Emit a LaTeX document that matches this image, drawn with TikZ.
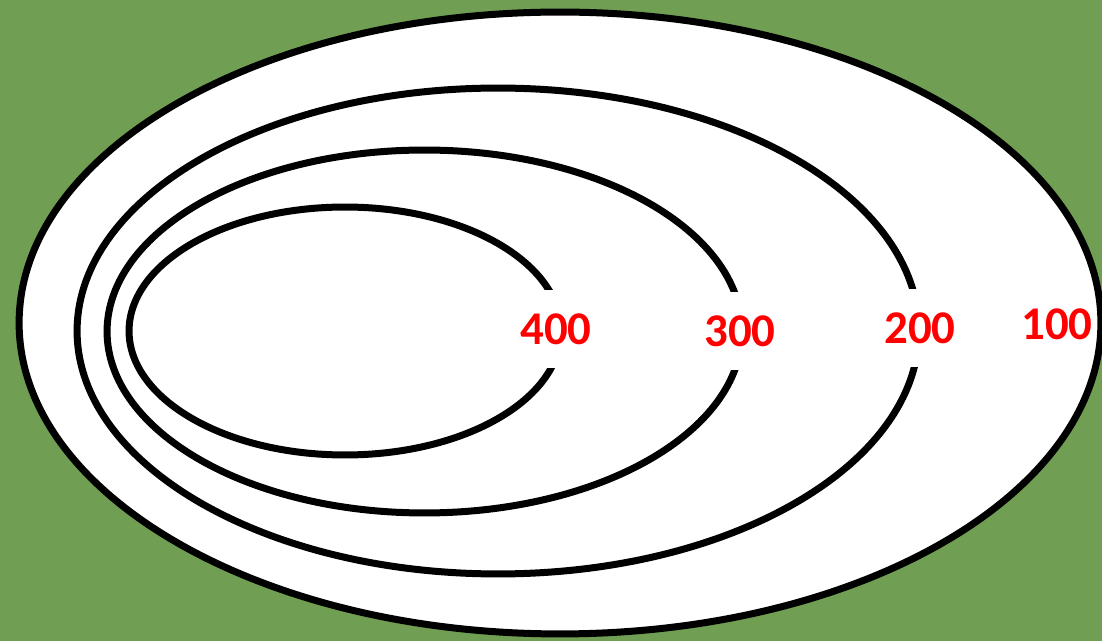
\documentclass[tikz,border=0pt]{standalone}
\usepackage{fontspec}
\setmainfont{Carlito}
\usepackage{xcolor}
\usepackage{tikz}
\definecolor{fieldgreen}{RGB}{112,158,82}
\definecolor{levelred}{RGB}{255,0,0}

\begin{document}
\begin{tikzpicture}[
  x=0.02cm, y=-0.02cm,
  ring/.style={draw=black, line width=0.14cm},
  lvl/.style={text=levelred, font=\fontsize{26.7}{30}\selectfont\bfseries,
              inner xsep=1pt, inner ysep=0pt},
  gap/.style={lvl, fill=white, minimum height=1.56cm}
]
\fill[fieldgreen] (0,0) rectangle (1102,641);
\useasboundingbox (0,0) rectangle (1102,641);
% contour rings
\draw[ring, fill=white] (560,323)   ellipse [x radius=10.82cm, y radius=6.22cm];
\draw[ring]             (498,331)   ellipse [x radius=8.42cm,  y radius=4.86cm];
\draw[ring]             (424.5,331.5) ellipse [x radius=6.35cm, y radius=3.63cm];
\draw[ring]             (345,331)   ellipse [x radius=4.32cm,  y radius=2.48cm];
% labels
\node[gap] (l400) at (556,329) {400};
\node[gap] (l300) at (740,331) {300};
\node[gap] (l200) at (920,328) {200};
\node[lvl] (l100) at (1057,324) {100};
\end{tikzpicture}
\end{document}
